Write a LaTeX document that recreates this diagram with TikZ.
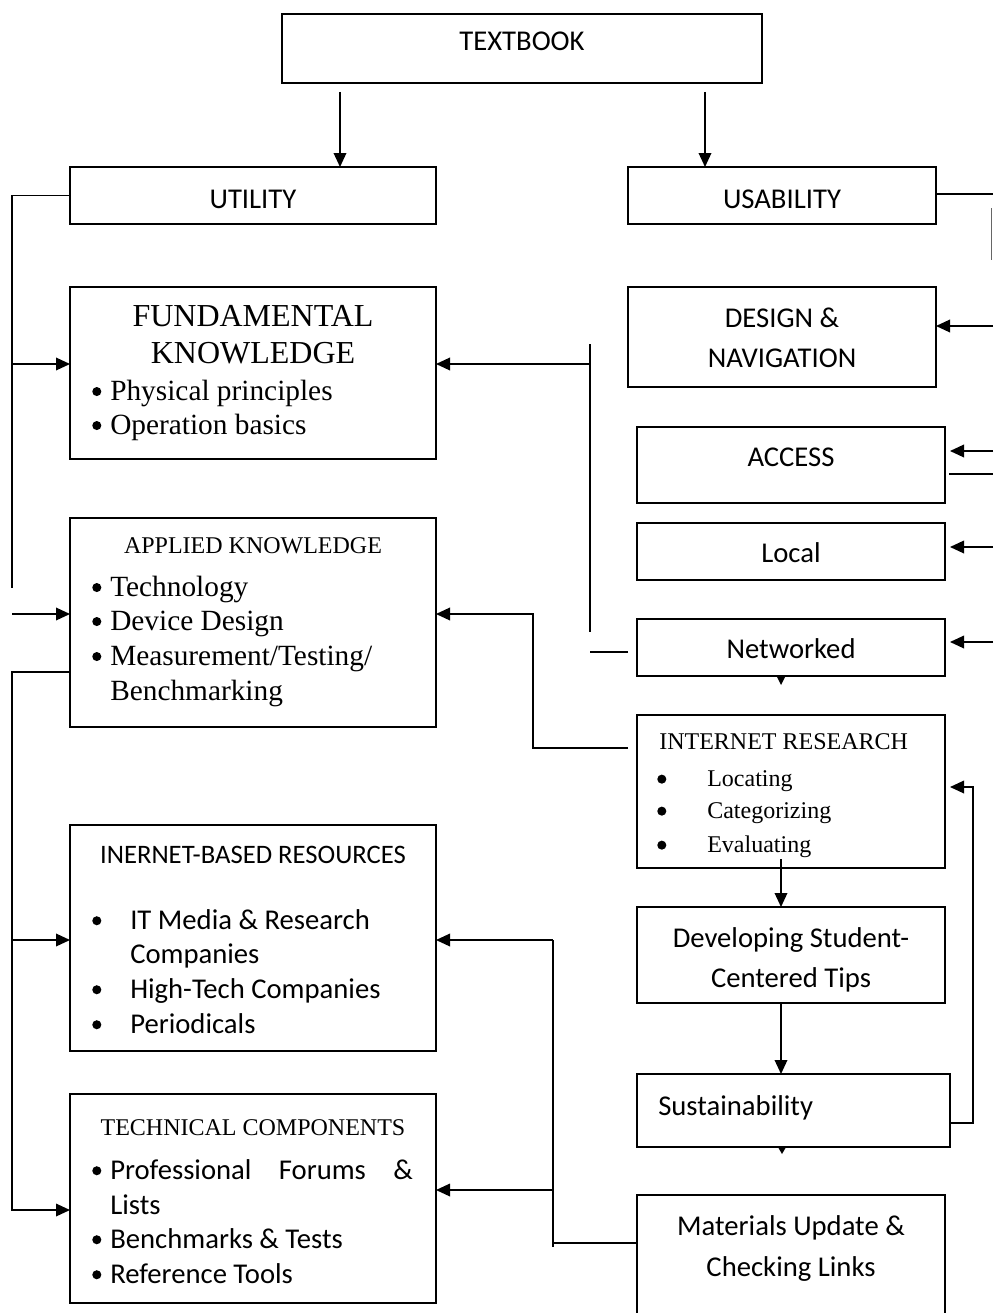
\documentclass[tikz,border=0pt]{standalone}
\usepackage{fontspec}
\usetikzlibrary{arrows.meta,calc}
\newfontfamily\sanf{Carlito}
\newfontfamily\serf{Liberation Serif}
\newcommand\fsz[1]{\fontsize{#1}{#1}\selectfont}
% round list bullet followed by a gap; #1 = total width in pixel units
\newcommand\dotb{\tikz[baseline=0pt]\fill (3.6pt,0.3em) circle (3.4pt);}
\newcommand\bul[1]{\makebox[\dimexpr#1pt*3/4\relax][l]{\dotb}}
% box from top-left (x1,y1) to bottom-right (x2,y2), in pixel units
\newcommand\boxat[5]{\node[bx, minimum width={(#4-#2)*0.75pt}, minimum height={(#5-#3)*0.75pt}] (#1) at (#2,#3) {};}
\tikzset{
  bx/.style={draw, line width=1.2pt, inner sep=0pt, outer sep=0pt, anchor=north west},
  ln/.style={line width=1pt},
  arr/.style={line width=1pt, -{Triangle[length=10.5pt,width=9.5pt]}},
  st/.style={anchor=mid, inner sep=0pt, font=\sanf\fsz{21.5}},
  stl/.style={anchor=mid west, inner sep=0pt, font=\sanf\fsz{21.5}},
  rt/.style={anchor=mid, inner sep=0pt, font=\serf\fsz{#1}},
  rtl/.style={anchor=mid west, inner sep=0pt, font=\serf\fsz{#1}},
}
\begin{document}
\begin{tikzpicture}[x=0.75pt,y=-0.75pt]
\useasboundingbox (0,0) rectangle (993,1313);
\clip (0,0) rectangle (993,1313);

% ---- boxes ----
\boxat{tb}{282}{14}{762}{83}
\boxat{util}{70}{167}{436}{224}
\boxat{usab}{628}{167}{936}{224}
\boxat{fund}{70}{287}{436}{459}
\boxat{design}{628}{287}{936}{387}
\boxat{access}{637}{427}{945}{503}
\boxat{local}{637}{523}{945}{580}
\boxat{net}{637}{619}{945}{676}
\boxat{appl}{70}{518}{436}{727}
\boxat{ir}{637}{715}{945}{868}
\boxat{ibr}{70}{825}{436}{1051}
\boxat{dev}{637}{907}{945}{1003}
\boxat{sus}{637}{1074}{950}{1147}
\boxat{tc}{70}{1094}{436}{1303}
\boxat{mat}{637}{1195}{945}{1340}

% ---- texts ----
\begin{scope}[yshift=-5.6pt]
\node[st] (ttb) at (522,40) {TEXTBOOK};
\node[st] (tut) at (253,198) {UTILITY};
\node[st] (tus) at (782,198) {USABILITY};

\node[rt=24] (tf1) at (253,316) {FUNDAMENTAL};
\node[rt=24] (tf2) at (253,353) {KNOWLEDGE};
\node[rtl=22] (tf3) at (92,390) {\bul{18}Physical principles};
\node[rtl=22] (tf4) at (92,424) {\bul{18}Operation basics};

\node[st] (td1) at (782,317) {DESIGN \&};
\node[st] (td2) at (782,357) {NAVIGATION};
\node[st] (tac) at (791,456) {ACCESS};
\node[st] (tlo) at (791,552) {Local};
\node[st] (tne) at (791,648) {Networked};

\node[rt=18] (ta0) at (253,543) {APPLIED KNOWLEDGE};
\node[rtl=22] (ta1) at (92,586) {\bul{18}Technology};
\node[rtl=22] (ta2) at (92,620) {\bul{18}Device Design};
\node[rtl=22] (ta3) at (92,655) {\bul{18}Measurement/Testing/};
\node[rtl=22] (ta4) at (110,690) {Benchmarking};

\node[rtl=18] (ti0) at (659,739) {INTERNET RESEARCH};
\node[rtl=18] (ti1) at (657,776) {\bul{50}Locating};
\node[rtl=18] (ti2) at (657,808) {\bul{50}Categorizing};
\node[rtl=18] (ti3) at (657,842) {\bul{50}Evaluating};

\node[anchor=mid, inner sep=0pt, font=\sanf\fsz{20}] (tb0) at (253,853) {INERNET-BASED RESOURCES};
\node[stl] (tb1) at (92,919) {\bul{38}IT Media \& Research};
\node[stl] (tb2) at (130,953) {Companies};
\node[stl] (tb3) at (92,988) {\bul{38}High-Tech Companies};
\node[stl] (tb4) at (92,1023) {\bul{38}Periodicals};

\node[rt=18] (tc0) at (253,1125) {TECHNICAL COMPONENTS};
\node[stl] (tc1) at (92,1169) {\bul{18}\makebox[227pt][l]{Professional\hfill Forums\hfill \&}};
\node[stl] (tc2) at (110,1204) {Lists};
\node[stl] (tc3) at (92,1238) {\bul{18}Benchmarks \& Tests};
\node[stl] (tc4) at (92,1273) {\bul{18}Reference Tools};

\node[st] (tv1) at (791,937) {Developing Student-};
\node[st] (tv2) at (791,977) {Centered Tips};
\node[stl] (tsu) at (658,1105) {Sustainability};
\node[st] (tm1) at (791,1225) {Materials Update \&};
\node[st] (tm2) at (791,1266) {Checking Links};
\end{scope}

% ---- connector end points ----
\coordinate (c1) at (340,92);
\coordinate (c2) at (705,92);
\coordinate (lb1) at (12,588);
\coordinate (lf) at (12,364);
\coordinate (la) at (12,614);
\coordinate (lb2) at (12,1210);
\coordinate (li) at (12,940);
\coordinate (mtop) at (590,344);
\coordinate (mbot) at (590,632);
\coordinate (mf) at (590,364);
\coordinate (mn) at (590,652);
\coordinate (qa) at (533,614);
\coordinate (qb) at (533,748);
\coordinate (re) at (993,194);
\coordinate (rs1) at (991.5,208);
\coordinate (rs2) at (991.5,260);
\coordinate (rd) at (993,326);
\coordinate (ra) at (993,451);
\coordinate (rb) at (993,474);
\coordinate (rl) at (993,547);
\coordinate (rn) at (993,642);
\coordinate (dv) at (781,859);
\coordinate (fb) at (973,1123);
\coordinate (ft) at (973,787);
\coordinate (bt) at (553,940);
\coordinate (bm) at (553,1190);
\coordinate (bb) at (553,1247);
\coordinate (bh) at (553,1243);

% ---- connectors ----
\draw[arr] (c1) -- (c1 |- util.north);
\draw[arr] (c2) -- (c2 |- usab.north);

\draw[ln] (util.west) -| (lb1);
\draw[arr] (lf) -- (lf -| fund.west);
\draw[arr] (la) -- (la -| appl.west);
\draw[arr] (appl.west |- 0,672) -| (lb2) -- (lb2 -| tc.west);
\draw[arr] (li) -- (li -| ibr.west);

\draw[ln] (mtop) -- (mbot);
\draw[arr] (mf) -- (mf -| fund.east);
\draw[ln] ($(net.west |- mn)+(-9,0)$) -- (mn);
\draw[arr] ($(ir.west |- qb)+(-9,0)$) -- (qb) -- (qa) -- (qa -| appl.east);

\draw[ln] (usab.east |- re) -- (re);
\draw[line width=1pt, black!60] (rs1) -- (rs2);
\draw[arr] (rd) -- (rd -| design.east);
\draw[arr] (ra) -- ($(ra -| access.east)+(5,0)$);
\draw[ln] ($(rb -| access.east)+(4,0)$) -- (rb);
\draw[arr] (rl) -- ($(rl -| local.east)+(5,0)$);
\draw[arr] (rn) -- ($(rn -| net.east)+(5,0)$);

\fill (777,677) -- (785,677) -- (781,685) -- cycle;
\draw[arr] (dv) -- (dv |- dev.north);
\draw[arr] (dv |- dev.south) -- (dv |- sus.north);
\fill (778.5,1148) -- (785.5,1148) -- (782,1154) -- cycle;
\draw[arr] (sus.east |- fb) -- (fb) -- (ft) -- ($(ft -| ir.east)+(5,0)$);

\draw[ln] (mat.west |- bh) -- (bh);
\draw[ln] (bt) -- (bb);
\draw[arr] (bt) -- (bt -| ibr.east);
\draw[arr] (bm) -- (bm -| tc.east);
\end{tikzpicture}
\end{document}
